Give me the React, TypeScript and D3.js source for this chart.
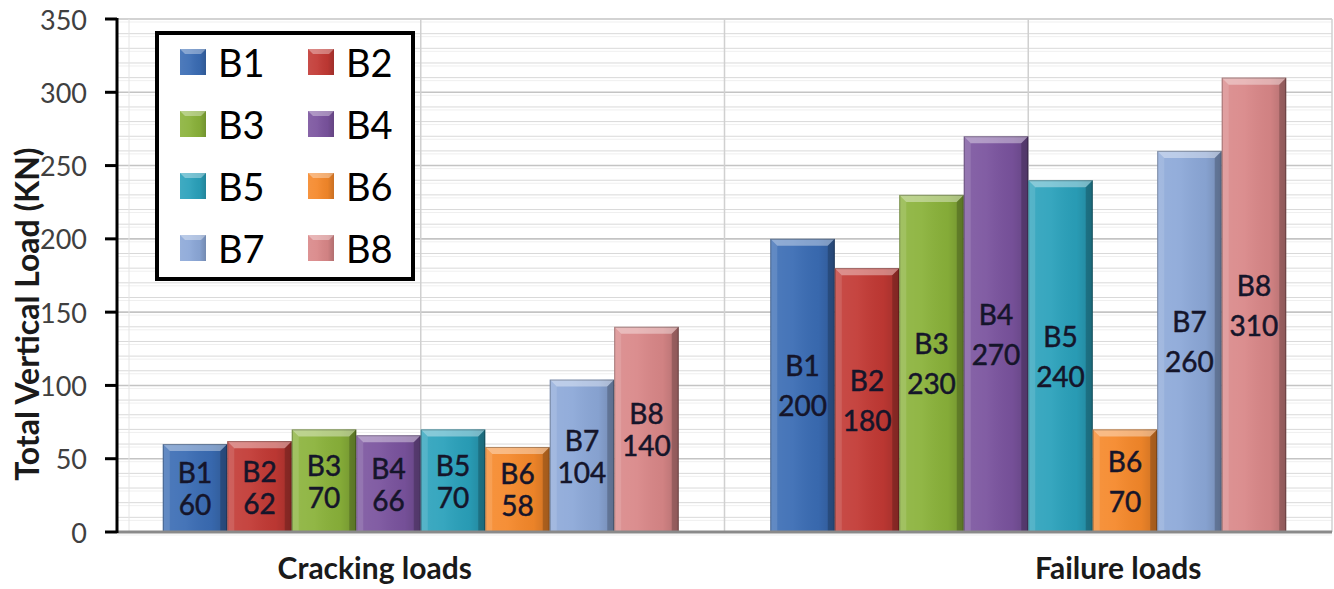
import React from "react";
import * as d3 from "d3";

// Beam specimens and their loads (kN)
const categories = ["Cracking loads", "Failure loads"];
const beams = ["B1", "B2", "B3", "B4", "B5", "B6", "B7", "B8"];
const crackingLoads = [60, 62, 70, 66, 70, 58, 104, 140];
const failureLoads = [200, 180, 230, 270, 240, 70, 260, 310];
const beamColors = ["#3a6cb4", "#c23934", "#8ab23a", "#7a539e", "#2aa1bb", "#f5882a", "#8ca8d8", "#d98788"];
const yTicks = [0, 50, 100, 150, 200, 250, 300, 350];

const W = 1334;
const H = 589;
const FONT = "Lato, 'Open Sans', sans-serif";

export default function App() {
  const left = 117;
  const right = 1332;
  const top = 19;
  const bottom = 532;

  const y = d3.scaleLinear().domain([0, 350]).range([bottom, top]);
  const x0 = d3.scaleBand<string>().domain(categories).range([left, right]).padding(0);
  const x1 = d3
    .scaleBand<string>()
    .domain(beams)
    .range([0, x0.bandwidth()])
    .paddingInner(0)
    .paddingOuter(0.71);

  const series = [crackingLoads, failureLoads];
  const minorTicks = d3.range(0, 351, 10);
  const vLines = d3.range(1, 5).map((k) => left + (k * (right - left)) / 4);
  const lineGap = [32, 40];
  const catLabelShift = [-46, 90];

  const bevel = 7;

  return (
    <svg width={W} height={H} style={{ display: "block", position: "absolute", left: 0, top: 0, background: "#fff" }}>
      <defs>
        <linearGradient id="shade" x1="0" x2="1" y1="0" y2="0">
          <stop offset="0" stopColor="#fff" stopOpacity="0.10" />
          <stop offset="0.35" stopColor="#fff" stopOpacity="0.06" />
          <stop offset="0.75" stopColor="#000" stopOpacity="0.04" />
          <stop offset="1" stopColor="#000" stopOpacity="0.18" />
        </linearGradient>
      </defs>

      {/* gridlines */}
      <g>
        {minorTicks.map((t) => (
          <g key={"m" + t}>
            <line x1={left} x2={right} y1={y(t) + 3} y2={y(t) + 3} stroke="#efefef" strokeWidth={1} />
            <line
              x1={left}
              x2={right}
              y1={y(t)}
              y2={y(t)}
              stroke={t % 50 === 0 ? "#c4c4c4" : "#d9d9d9"}
              strokeWidth={t % 50 === 0 ? 1.6 : 1}
            />
          </g>
        ))}
        <line x1={left + 12} x2={left + 12} y1={top} y2={bottom} stroke="#e4e4e4" strokeWidth={1} />
        {vLines.map((vx) => (
          <line key={"v" + vx} x1={vx} x2={vx} y1={top} y2={bottom} stroke="#d0d0d0" strokeWidth={1.5} />
        ))}
      </g>

      {/* bars */}
      {categories.map((cat, ci) => (
        <g key={cat} transform={`translate(${x0(cat)},0)`}>
          {beams.map((b, bi) => {
            const v = series[ci][bi];
            const bx = x1(b)!;
            const bw = x1.bandwidth();
            const by = y(v);
            const bh = y(0) - by;
            const x2 = bx + bw;
            const yb = y(0);
            return (
              <g key={b}>
                <rect x={bx} y={by} width={bw} height={bh} fill={beamColors[bi]} />
                <rect x={bx} y={by} width={bw} height={bh} fill="url(#shade)" />
                <polygon
                  points={`${bx},${by} ${x2},${by} ${x2 - bevel},${by + bevel} ${bx + bevel},${by + bevel}`}
                  fill="#fff"
                  fillOpacity={0.38}
                />
                <polygon
                  points={`${bx},${by} ${bx + bevel},${by + bevel} ${bx + bevel},${yb} ${bx},${yb}`}
                  fill="#fff"
                  fillOpacity={0.12}
                />
                <polygon
                  points={`${x2},${by} ${x2 - bevel},${by + bevel} ${x2 - bevel},${yb} ${x2},${yb}`}
                  fill="#000"
                  fillOpacity={0.2}
                />
                <rect x={bx + 0.5} y={by + 0.5} width={bw - 1} height={bh - 1} fill="none" stroke="#000" strokeOpacity={0.28} />
              </g>
            );
          })}
        </g>
      ))}

      {/* value labels */}
      {categories.map((cat, ci) =>
        beams.map((b, bi) => {
          const v = series[ci][bi];
          const cx = x0(cat)! + x1(b)! + x1.bandwidth() / 2;
          const mid = (y(v) + y(0)) / 2;
          const g = lineGap[ci];
          return (
            <g
              key={cat + b}
              fontFamily={FONT}
              fontSize={28}
              textAnchor="middle"
              fill="#15152a"
              stroke="#15152a"
              strokeWidth={0.5}
            >
              <text x={cx} y={mid - g / 2} dominantBaseline="central">
                {b}
              </text>
              <text x={cx} y={mid + g / 2} dominantBaseline="central">
                {v}
              </text>
            </g>
          );
        })
      )}

      {/* x axis baseline */}
      <line x1={left} x2={right} y1={bottom} y2={bottom} stroke="#8a8a8a" strokeWidth={3} />

      {/* y axis */}
      <line x1={left} x2={left} y1={top - 1} y2={bottom + 1} stroke="#000" strokeWidth={3} />
      {yTicks.map((t) => (
        <g key={"t" + t}>
          <line x1={left - 12} x2={left} y1={y(t)} y2={y(t)} stroke="#000" strokeWidth={3} />
          <text
            x={87}
            y={y(t)}
            textAnchor="end"
            dominantBaseline="central"
            fontFamily={FONT}
            fontSize={27}
            fill="#404040"
          >
            {t}
          </text>
        </g>
      ))}

      {/* axis title */}
      <text
        transform={`translate(26,314) rotate(-90)`}
        textAnchor="middle"
        dominantBaseline="central"
        fontFamily={FONT}
        fontWeight="bold"
        fontSize={32}
        fill="#1a1a1a"
      >
        Total Vertical Load (KN)
      </text>

      {/* category labels */}
      {categories.map((cat, ci) => (
        <text
          key={"c" + cat}
          x={x0(cat)! + x0.bandwidth() / 2 + catLabelShift[ci]}
          y={579}
          textAnchor="middle"
          fontFamily={FONT}
          fontWeight="bold"
          fontSize={30}
          fill="#1a1a1a"
        >
          {cat}
        </text>
      ))}

      {/* legend */}
      <g>
        <rect x={157} y={33} width={256} height={246} fill="#fff" stroke="#000" strokeWidth={4} />
        {beams.map((b, i) => {
          const col = i % 2;
          const row = Math.floor(i / 2);
          const sx = 180 + col * 128;
          const cy = 62 + row * 62;
          return (
            <g key={"l" + b}>
              <rect x={sx} y={cy - 13} width={26} height={26} fill={beamColors[i]} />
              <rect x={sx} y={cy - 13} width={26} height={26} fill="url(#shade)" />
              <polygon
                points={`${sx},${cy - 13} ${sx + 26},${cy - 13} ${sx + 21},${cy - 8} ${sx + 5},${cy - 8}`}
                fill="#fff"
                fillOpacity={0.35}
              />
              <text
                x={sx + 38}
                y={cy}
                dominantBaseline="central"
                fontFamily={FONT}
                fontSize={38}
                fill="#000"
              >
                {b}
              </text>
            </g>
          );
        })}
      </g>
    </svg>
  );
}
